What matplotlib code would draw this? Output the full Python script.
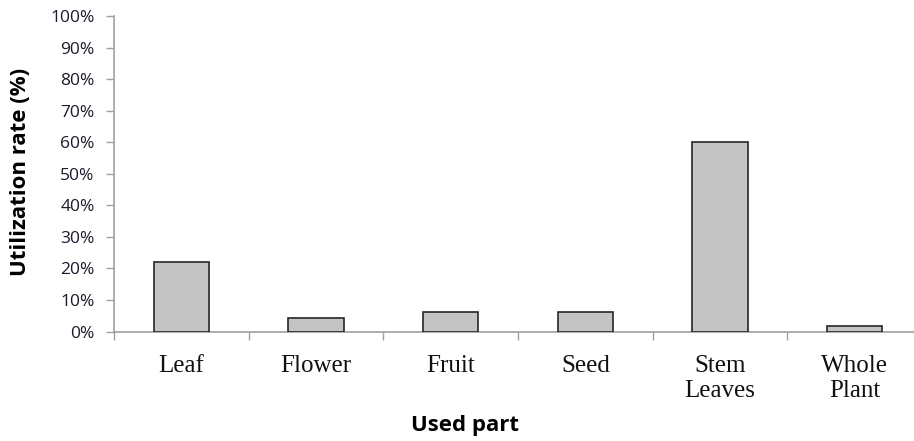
import matplotlib
matplotlib.use("Agg")
import matplotlib.pyplot as plt
from matplotlib.ticker import FixedLocator, NullFormatter, FuncFormatter

categories = ["Leaf", "Flower", "Fruit", "Seed", "Stem\nLeaves", "Whole\nPlant"]
values = [22.0, 4.2, 6.2, 6.2, 60.2, 1.8]
yticks = list(range(0, 101, 10))

W, H = 914, 441
fig = plt.figure(figsize=(W / 100, H / 100), dpi=100)
left, right, bottom, top = 114, 922, 331.5, 16
ax = fig.add_axes([left / W, 1 - bottom / H, (right - left) / W, (bottom - top) / H])

x = list(range(len(categories)))
ax.bar(x, values, width=0.41, color="#c4c4c4", edgecolor="#262626", linewidth=1.2, zorder=3)

ax.set_xlim(-0.5, len(categories) - 0.5)
ax.set_ylim(0, 100)
ax.set_yticks(yticks)
ax.yaxis.set_major_formatter(FuncFormatter(lambda v, p: f"{int(v)}%"))
for lab in ax.get_yticklabels():
    lab.set_fontfamily("Open Sans")
    lab.set_fontsize(12.5)
    lab.set_color("#1a1a2a")

ax.set_xticks(x)
ax.set_xticklabels(categories, fontfamily="Liberation Serif", fontsize=18, color="#111111",
                   linespacing=1.18, va="top")
ax.tick_params(axis="x", which="major", length=0, pad=17)
ax.xaxis.set_minor_locator(FixedLocator([i + 0.5 for i in range(-1, len(categories))]))
ax.xaxis.set_minor_formatter(NullFormatter())
ax.tick_params(axis="x", which="minor", length=6, color="#a0a0a0", width=1, direction="out")
ax.tick_params(axis="y", length=6, color="#a0a0a0", width=1, pad=8)

for s in ["top", "right"]:
    ax.spines[s].set_visible(False)
for s in ["left", "bottom"]:
    ax.spines[s].set_color("#a0a0a0")
    ax.spines[s].set_linewidth(1.2)

fig.text(21 / W, 1 - 172 / H, "Utilization rate (%)", rotation=90, ha="center", va="center",
         fontfamily="Open Sans", fontweight="bold", fontsize=16, color="#000000")
fig.text(465 / W, 1 - 425 / H, "Used part", ha="center", va="center",
         fontfamily="Open Sans", fontweight="bold", fontsize=16, color="#000000")

fig.savefig("out.png", dpi=100)
